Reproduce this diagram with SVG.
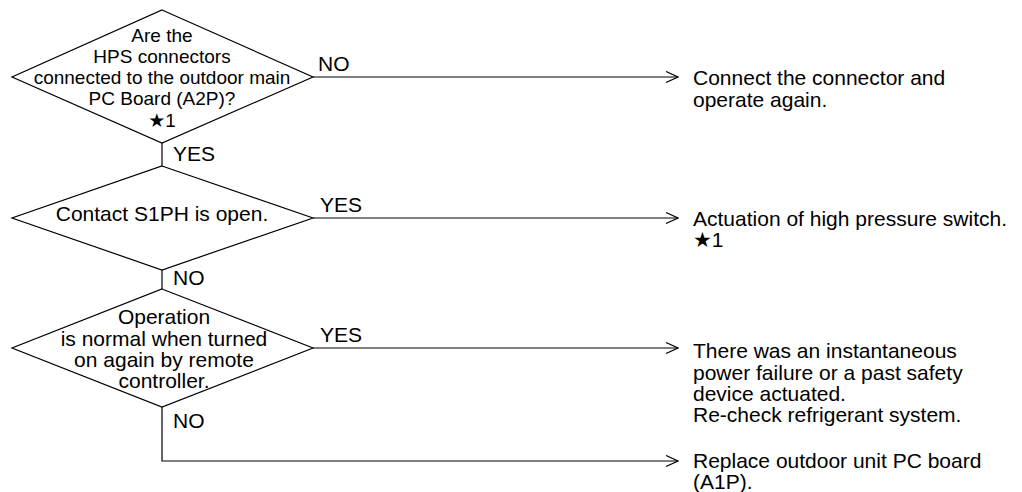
<svg xmlns="http://www.w3.org/2000/svg" width="1022" height="492" viewBox="0 0 1022 492">
<style>
text{font-family:"Liberation Sans",Arial,"DejaVu Sans",sans-serif;font-size:21px;fill:#000}
.c{text-anchor:middle}
.s{font-size:19px}
.d{fill:#fff;stroke:#000;stroke-width:1.2}
.l{fill:none;stroke:#000;stroke-width:1.2}
</style>
<defs>
<marker id="a" markerWidth="14" markerHeight="12" refX="13" refY="6" orient="auto" markerUnits="userSpaceOnUse">
<path d="M1,0.5 L13,6 L1,11.5" fill="none" stroke="#000" stroke-width="1.2"/>
</marker>
</defs>
<rect width="1022" height="492" fill="#fff"/>
<g id="connectors">
<path class="l" d="M313,77 H678" marker-end="url(#a)"/>
<path class="l" d="M162,143 V166"/>
<path class="l" d="M313,218 H678" marker-end="url(#a)"/>
<path class="l" d="M162,270 V289"/>
<path class="l" d="M313,348 H678" marker-end="url(#a)"/>
<path class="l" d="M162,407 V461 H678" marker-end="url(#a)"/>
<text x="318" y="71">NO</text>
<text x="173" y="160.5">YES</text>
<text x="320" y="212">YES</text>
<text x="173" y="285">NO</text>
<text x="320" y="342">YES</text>
<text x="173" y="428">NO</text>
</g>
<g id="q1">
<polygon class="d" points="162,10 313,77 162,143 12,77"/>
<text class="c s" x="162" y="41.7">Are the</text>
<text class="c s" x="162" y="63.3">HPS connectors</text>
<text class="c s" x="162" y="83.5">connected to the outdoor main</text>
<text class="c s" x="162" y="104.5">PC Board (A2P)?</text>
<text class="c s" x="162" y="126.5">★1</text>
</g>
<g id="q2">
<polygon class="d" points="162,166 313,218 162,270 12,218"/>
<text class="c" x="162" y="221">Contact S1PH is open.</text>
</g>
<g id="q3">
<polygon class="d" points="162,289 313,348 162,407 12,348"/>
<text class="c" x="164" y="324.3">Operation</text>
<text class="c" x="164" y="345.5">is normal when turned</text>
<text class="c" x="164" y="366.7">on again by remote</text>
<text class="c" x="164" y="387.5">controller.</text>
</g>
<g id="r1">
<text x="693" y="85">Connect the connector and</text>
<text x="693" y="106.5">operate again.</text>
</g>
<g id="r2">
<text x="693" y="226">Actuation of high pressure switch.</text>
<text x="693" y="247">★1</text>
</g>
<g id="r3">
<text x="693" y="358">There was an instantaneous</text>
<text x="693" y="379.5">power failure or a past safety</text>
<text x="693" y="400.5">device actuated.</text>
<text x="693" y="422">Re-check refrigerant system.</text>
</g>
<g id="r4">
<text x="693" y="468">Replace outdoor unit PC board</text>
<text x="693" y="489">(A1P).</text>
</g>
</svg>
